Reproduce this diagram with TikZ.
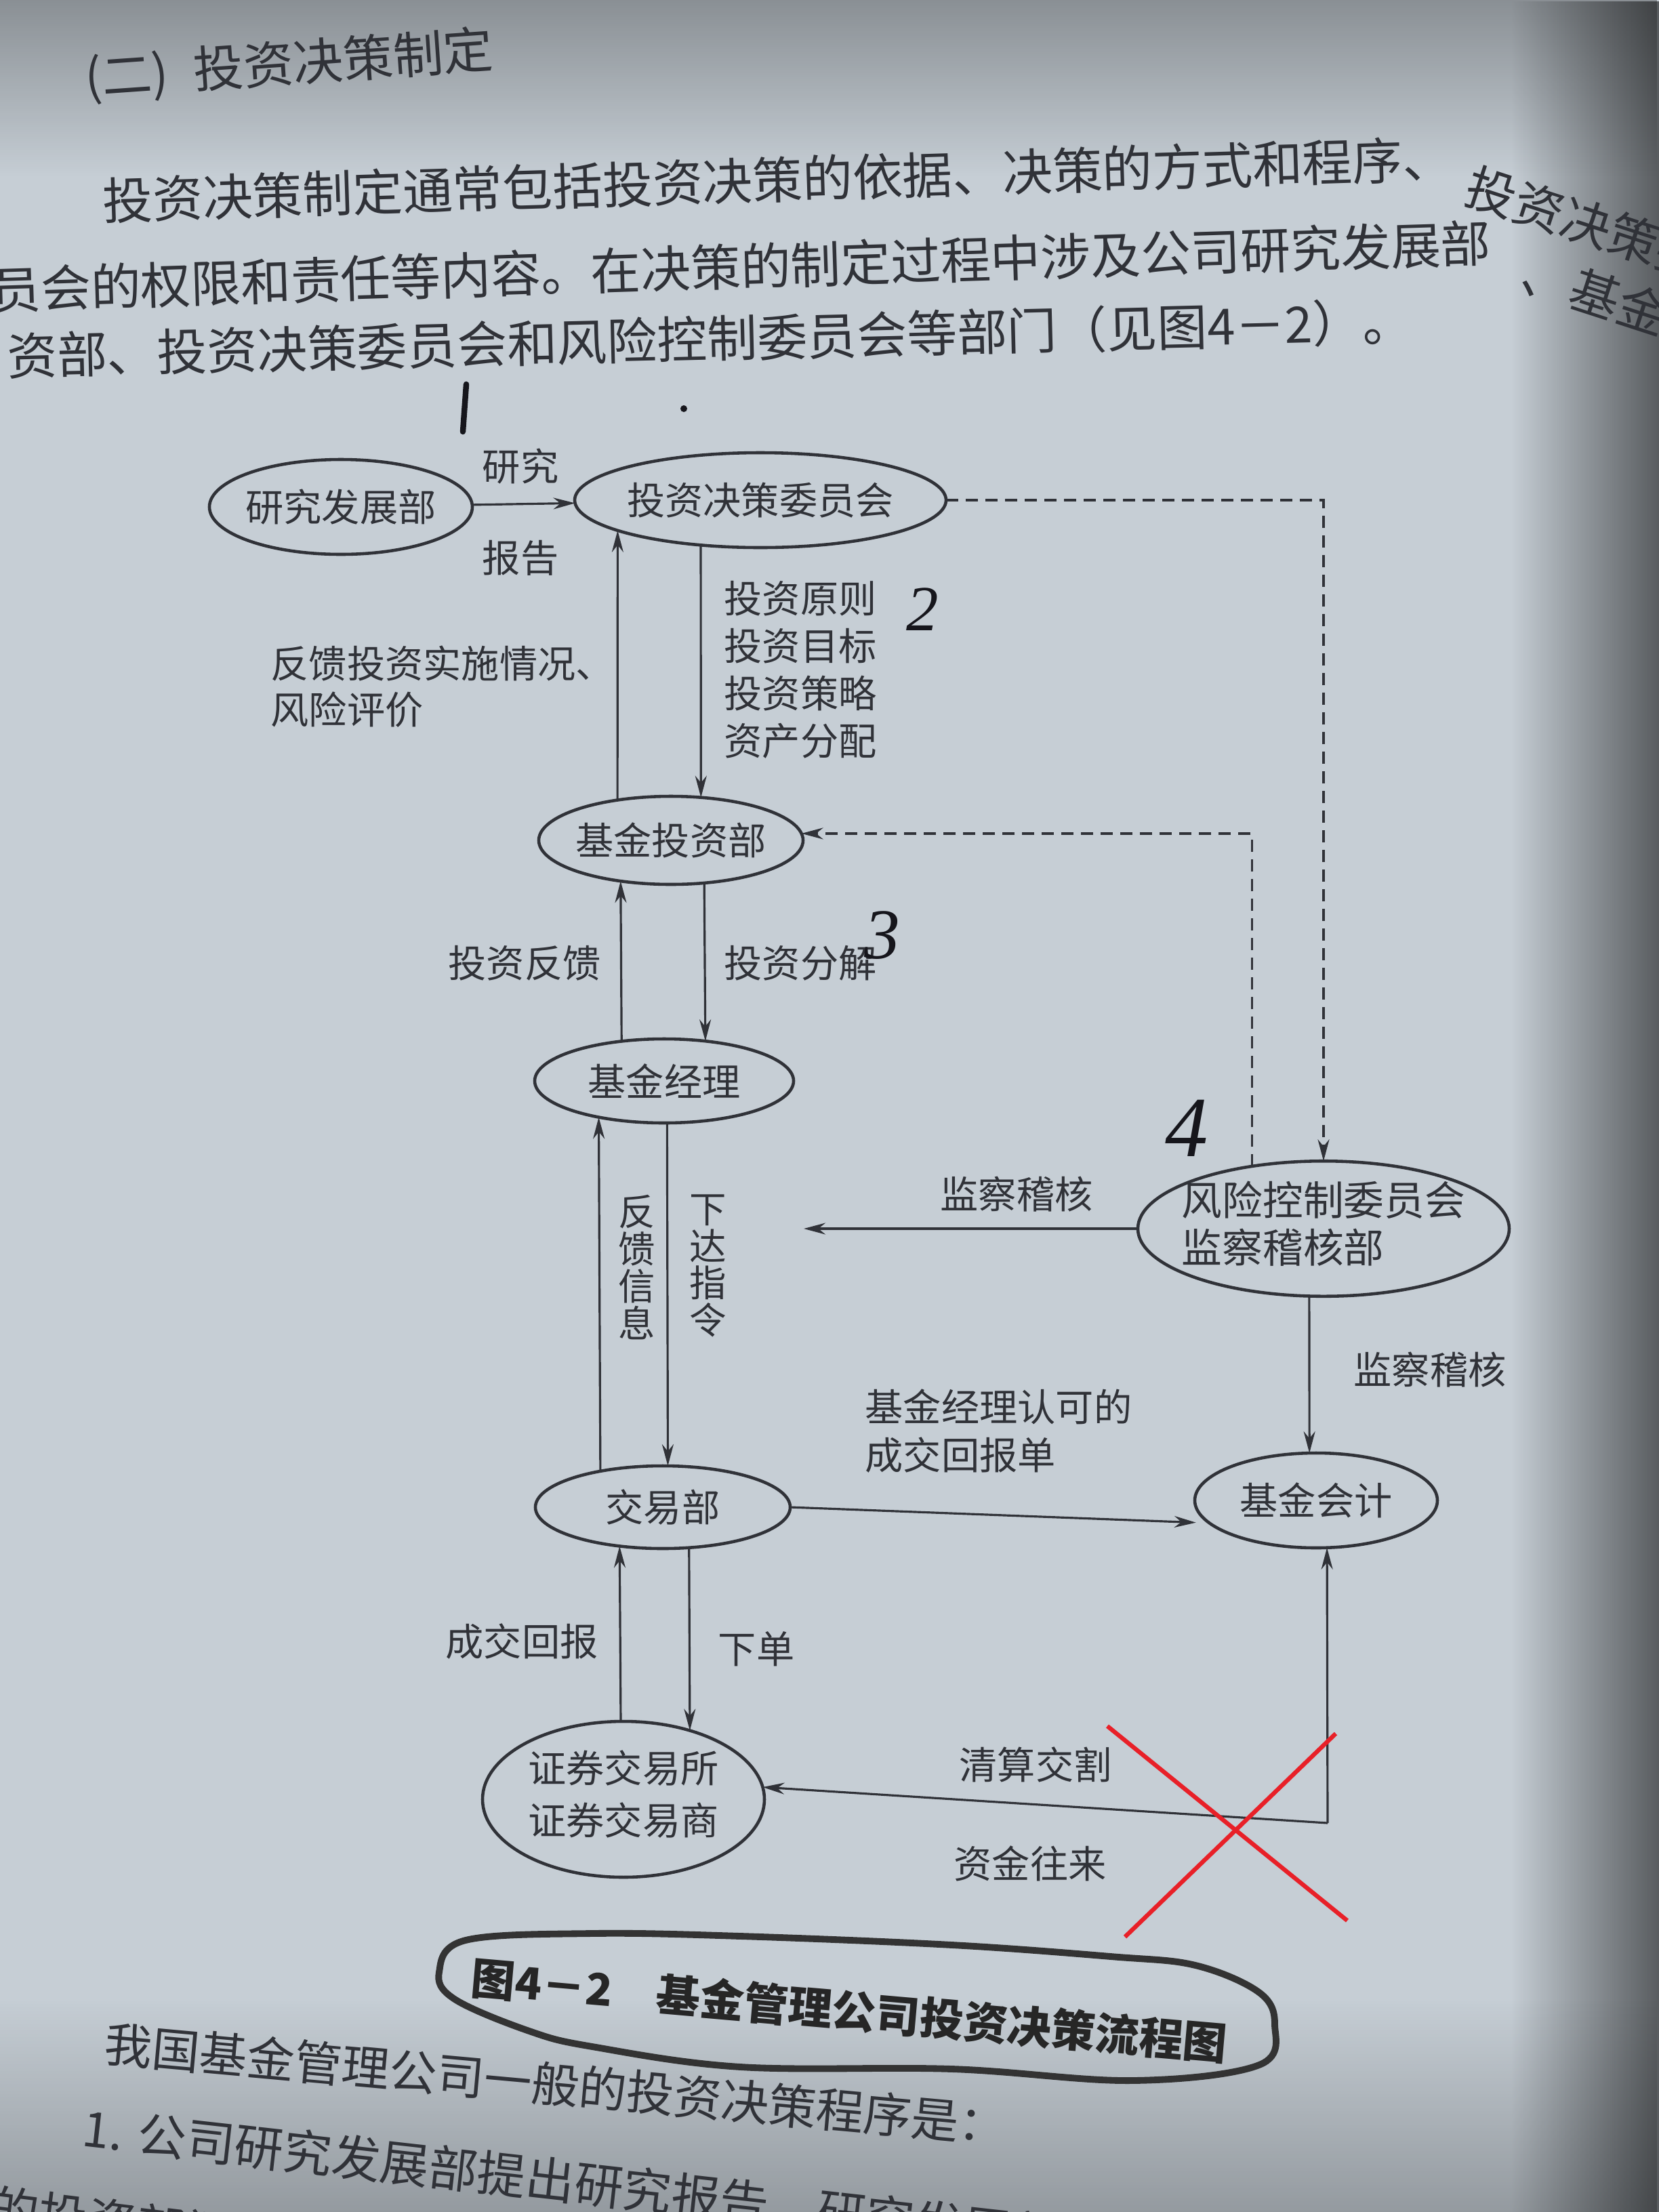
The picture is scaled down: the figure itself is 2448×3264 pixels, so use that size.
\documentclass[tikz,border=0pt]{standalone}
\usepackage{fontspec}
\setmainfont{Noto Sans CJK SC}
\newfontfamily\handfont{Liberation Serif}
\usetikzlibrary{shapes.geometric,arrows.meta,fadings}
\definecolor{paper}{RGB}{198,206,213}
\definecolor{ink}{RGB}{48,50,56}
\definecolor{penink}{RGB}{22,22,28}
\definecolor{redpen}{RGB}{232,32,40}
\newcommand\dgf{\fontsize{16pt}{19pt}\selectfont}
\newcommand\txf{\fontsize{21pt}{25pt}\selectfont}
\newcommand\zb[1]{\makebox[0pt]{#1}}
\begin{document}
\begin{tikzpicture}[x=0.1mm,y=-0.1mm,
 ell/.style={draw=ink,ellipse,line width=1.3pt,inner sep=0pt,outer sep=0pt,text=ink,font=\dgf},
 lab/.style={text=ink,font=\dgf,inner sep=0pt},
 vlab/.style={text=ink,font=\fontsize{15.5pt}{15.6pt}\selectfont,align=center,inner sep=0pt},
 arr/.style={draw=ink,line width=0.9pt,-{Stealth[length=3.2mm,width=1.7mm]}},
 dsh/.style={arr,dash pattern=on 1.8mm off 1.1mm},
 book/.style={text=ink,font=\txf,inner sep=0pt,anchor=west},
 hw/.style={text=penink,font=\handfont\itshape,inner sep=0pt},
]
\useasboundingbox (0,0) rectangle (2448,3264);
% paper
\fill[paper] (0,0) rectangle (2448,3264);
\fill[black,opacity=0.55,path fading=west] (2230,0) rectangle (2448,3264);
\fill[black,opacity=0.3,path fading=south] (0,0) rectangle (2448,260);
\fill[black,opacity=0.25,path fading=north] (0,2950) rectangle (2448,3264);

% book text (top)
\node[book,rotate=4] (t0) at (125,118) {(二)\enspace 投资决策制定};
\node[book,rotate=1.8] (t1) at (151,296) {投资决策制定通常包括投资决策的依据、决策的方式和程序、};
\node[book,rotate=-18] (t1b) at (2165,272) {投资决策委};
\node[book,rotate=1.8] (t2) at (-14,428) {员会的权限和责任等内容。在决策的制定过程中涉及公司研究发展部};
\node[book,rotate=-18] (t2b) at (2248,400) {、基金投};
\node[book,rotate=1.4] (t3) at (10,525) {资部、投资决策委员会和风险控制委员会等部门（见图4－2）。};

% diagram nodes
\node[ell,minimum width=38.8mm,minimum height=14mm] (yj) at (503,748) {\zb{研究发展部}};
\node[ell,minimum width=54.8mm,minimum height=14mm] (tw) at (1122,738) {\zb{投资决策委员会}};
\node[ell,minimum width=39mm,minimum height=13mm] (jt) at (990,1240) {\zb{基金投资部}};
\node[ell,minimum width=38.2mm,minimum height=12.4mm] (jl) at (980,1595) {\zb{基金经理}};
\node[ell,minimum width=54.8mm,minimum height=19.8mm] (fk) at (1953,1813)
  {\zb{\fontsize{17pt}{19pt}\selectfont\begin{tabular}{@{}l@{}}风险控制委员会\\监察稽核部\end{tabular}}};
\node[ell,minimum width=37.6mm,minimum height=12.2mm] (jy) at (978,2224) {\zb{交易部}};
\node[ell,minimum width=35.8mm,minimum height=14mm] (kj) at (1942,2214) {\zb{基金会计}};
\node[ell,minimum width=41.6mm,minimum height=23mm] (zq) at (920,2655)
  {\zb{\begin{tabular}{@{}c@{}}证券交易所\\[2.5pt]证券交易商\end{tabular}}};

\coordinate (mc) at (1186,1813);
\coordinate (qc) at (1959,2690);

% connectors
\draw[arr] (yj) -- (tw);
\draw[arr] (tw.217) -- (jt.55.2);
\draw[arr] (jt.143.1) -- (tw.192);
\draw[arr] (jt.308.5) -- (jl.44.5);
\draw[arr] (jl.137.6) -- (jt.219.1);
\draw[arr] (jl.274.6) -- (jy.83.5);
\draw[arr] (jy.150) -- (jl.209.9);
\draw[arr] (zq.92) -- (jy.222.9);
\draw[arr] (jy.303.9) -- (zq.46);
\draw[arr] (fk.258) -- (kj.98.1);
\draw[arr] (fk.west) -- (mc);
\draw[arr,shorten >=2mm] (jy.east) -- (kj.192);
\draw[arr] (qc) -- (zq.5);
\draw[arr] (qc) -- (kj.283.7);
\draw[dsh] (tw.east) -| (fk.north);
\draw[dsh] (fk.139.3) |- (jt.3.6);

% labels
\node[lab] (l1) at (768,688) {研究};
\node[lab] (l2) at (768,823) {报告};
\node[lab,anchor=west,align=left,font=\fontsize{16pt}{19.9pt}\selectfont] (lp) at (1068,988) {投资原则\\投资目标\\投资策略\\资产分配};
\node[lab,anchor=west,align=left,font=\fontsize{16pt}{19.3pt}\selectfont] (lf) at (399,1013) {反馈投资实施情况、\\风险评价};
\node[lab] (l3) at (774,1421) {投资反馈};
\node[lab] (l4) at (1181,1421) {投资分解};
\node[vlab] (l5) at (940,1870) {反\\馈\\信\\息};
\node[vlab] (l6) at (1045,1868) {下\\达\\指\\令};
\node[lab] (l7) at (1500,1762) {监察稽核};
\node[lab] (l8) at (2110,2021) {监察稽核};
\node[lab,anchor=west,align=left,font=\fontsize{16pt}{20.2pt}\selectfont] (lr) at (1276,2112) {基金经理认可的\\成交回报单};
\node[lab] (l9) at (770,2422) {成交回报};
\node[lab] (l10) at (1116,2433) {下单};
\node[lab] (l11) at (1528,2604) {清算交割};
\node[lab] (l12) at (1520,2750) {资金往来};

% handwritten marks
\draw[penink,line width=2.4pt,line cap=round] (688,567) -- (683,637);
\fill[penink] (1009,603) circle (5);
\node[hw,font=\handfont\itshape\fontsize{27pt}{30pt}\selectfont] (h2) at (1361,899) {2};
\node[hw,font=\handfont\itshape\fontsize{30pt}{33pt}\selectfont] (h3) at (1302,1380) {3};
\node[hw,font=\handfont\itshape\fontsize{36pt}{40pt}\selectfont] (h4) at (1751,1665) {4};
\draw[redpen,line width=1.8pt] (1634,2547) -- (1988,2834);
\draw[redpen,line width=1.8pt] (1971,2558) -- (1660,2858);

% caption
\draw[black!80,line width=2.8pt] plot[smooth cycle,tension=0.6] coordinates {
 (687,2863) (874,2853) (1093,2857) (1405,2870) (1639,2887) (1764,2900)
 (1858,2940) (1881,2987) (1858,3047) (1671,3070) (1405,3053) (1093,3050)
 (874,3020) (781,2997) (671,2950) (648,2910)};
\node[text=black!85,font=\fontsize{18.5pt}{22pt}\selectfont\bfseries,inner sep=0pt,anchor=west,rotate=-5] (cap) at (695,2918) {图4－2\quad 基金管理公司投资决策流程图};

% book text (bottom)
\node[book,font=\fontsize{20pt}{24pt}\selectfont,rotate=-5.2] (b1) at (154,3015) {我国基金管理公司一般的投资决策程序是：};
\node[book,font=\fontsize{20.5pt}{24pt}\selectfont,rotate=-6.4] (b2) at (122,3140) {1. 公司研究发展部提出研究报告，研究发展部};
\node[book,font=\fontsize{20.5pt}{24pt}\selectfont,rotate=-7] (b3) at (-15,3256) {的投资部门提出};
\end{tikzpicture}
\end{document}
